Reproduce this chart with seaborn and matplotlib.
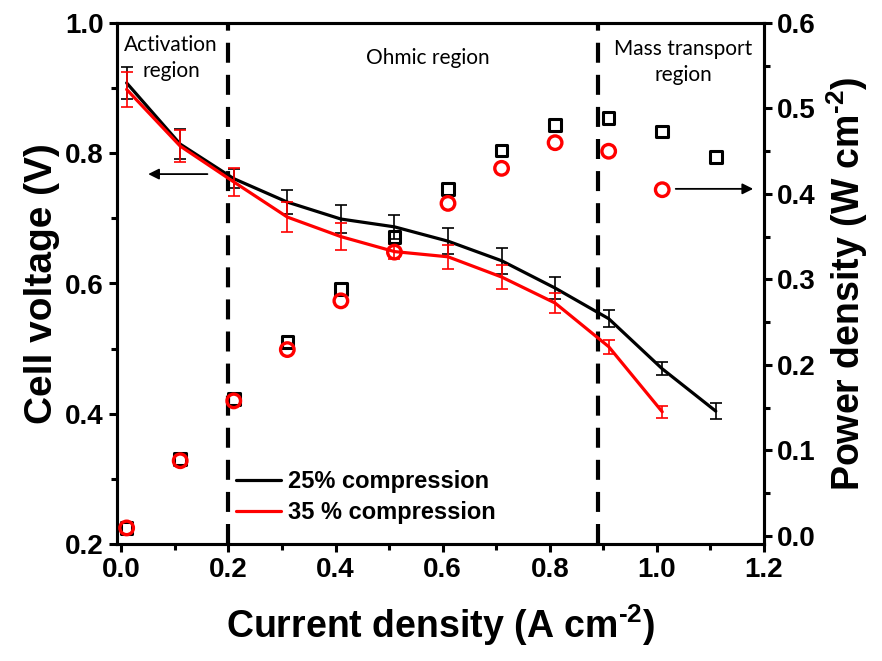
import matplotlib
matplotlib.use("Agg")
import matplotlib.pyplot as plt
import seaborn as sns
import pandas as pd
from matplotlib.ticker import MultipleLocator, FormatStrFormatter

# ---- data ----
current = [0.01, 0.11, 0.21, 0.31, 0.41, 0.51, 0.61, 0.71, 0.81, 0.91, 1.01, 1.11]
v25 = [0.908, 0.814, 0.761, 0.725, 0.699, 0.687, 0.665, 0.635, 0.593, 0.546, 0.469, 0.404]
e25 = [0.025, 0.023, 0.015, 0.019, 0.021, 0.018, 0.020, 0.020, 0.017, 0.013, 0.010, 0.012]
v35 = [0.898, 0.811, 0.756, 0.702, 0.672, 0.649, 0.641, 0.610, 0.570, 0.503, 0.403]
e35 = [0.027, 0.025, 0.022, 0.023, 0.021, 0.012, 0.018, 0.018, 0.015, 0.011, 0.009]
p25 = [0.0094, 0.090, 0.160, 0.227, 0.289, 0.350, 0.406, 0.451, 0.481, 0.489, 0.473, 0.443]
p35 = [0.0094, 0.088, 0.158, 0.218, 0.275, 0.332, 0.389, 0.430, 0.460, 0.450, 0.405]
labels = ["25% compression", "35 % compression"]
region_lines = [0.2, 0.89]

sns.set_theme(style="ticks")
plt.rcParams['font.family'] = ['Liberation Sans', 'DejaVu Sans']
plt.rcParams['font.weight'] = 'bold'
plt.rcParams['text.color'] = 'black'
plt.rcParams['axes.labelcolor'] = 'black'
plt.rcParams['xtick.color'] = 'black'
plt.rcParams['ytick.color'] = 'black'
plt.rcParams['mathtext.fontset'] = 'custom'
plt.rcParams['mathtext.rm'] = 'Liberation Sans:bold'
plt.rcParams['mathtext.bf'] = 'Liberation Sans:bold'

fig = plt.figure(figsize=(8.82, 6.61), dpi=100)
ax = fig.add_axes([117/882, 1-544/661, (764-117)/882, (544-23)/661])
ax2 = ax.twinx()

df25 = pd.DataFrame({"I": current, "V": v25, "P": p25})
df35 = pd.DataFrame({"I": current[:len(v35)], "V": v35, "P": p35})

# region lines
for xv in region_lines:
    ax.axvline(xv, color="black", lw=3, dashes=(4.8, 2.9), zorder=1)

# polarization curves
sns.lineplot(data=df25, x="I", y="V", ax=ax, color="black", lw=2.3, label=labels[0], zorder=3)
sns.lineplot(data=df35, x="I", y="V", ax=ax, color="red", lw=2.3, label=labels[1], zorder=4)
ax.errorbar(df25["I"], df25["V"], yerr=e25, fmt="none", ecolor="black", elinewidth=1.2,
            capsize=4.3, capthick=1.2, zorder=3)
ax.errorbar(df35["I"], df35["V"], yerr=e35, fmt="none", ecolor="red", elinewidth=1.2,
            capsize=4.3, capthick=1.2, zorder=4)

# power density
sns.scatterplot(data=df25, x="I", y="P", ax=ax2, marker="s", s=70, facecolor="none",
                edgecolor="black", linewidth=2.2, zorder=3, legend=False)
sns.scatterplot(data=df35, x="I", y="P", ax=ax2, marker="o", s=95, facecolor="none",
                edgecolor="red", linewidth=2.4, zorder=4, legend=False)

ax.set_xlim(-0.008, 1.2)
ax.set_ylim(0.2, 1.0)
ax2.set_ylim(-0.0094, 0.6)

ax.xaxis.set_major_locator(MultipleLocator(0.2))
ax.xaxis.set_minor_locator(MultipleLocator(0.1))
ax.yaxis.set_major_locator(MultipleLocator(0.2))
ax.yaxis.set_minor_locator(MultipleLocator(0.1))
ax2.yaxis.set_major_locator(MultipleLocator(0.1))
ax2.yaxis.set_minor_locator(MultipleLocator(0.05))
ax.xaxis.set_major_formatter(FormatStrFormatter("%.1f"))
ax.yaxis.set_major_formatter(FormatStrFormatter("%.1f"))
ax2.yaxis.set_major_formatter(FormatStrFormatter("%.1f"))

for a in (ax, ax2):
    for s in a.spines.values():
        s.set_linewidth(2.2)
        s.set_color("black")
    a.tick_params(which="major", direction="out", length=6, width=2.2, labelsize=20, colors="black")
    a.tick_params(which="minor", direction="out", length=4, width=2.2, colors="black")
ax.tick_params(axis="y", which="both", right=False)
ax.tick_params(axis="x", which="both", top=False)
for lab in ax.get_xticklabels() + ax.get_yticklabels() + ax2.get_yticklabels():
    lab.set_fontweight("bold")

ax.set_xlabel("Current density (A cm$^{\\text{-2}}$)", fontsize=27, fontweight="bold", labelpad=14)
ax.set_ylabel("Cell voltage (V)", fontsize=28, fontweight="bold", labelpad=4)
ax2.set_ylabel("Power density (W cm$^{\\text{-2}}$)", fontsize=27, fontweight="bold", labelpad=6)

# region annotations
rfont = dict(family=["Lato", "DejaVu Sans"], fontsize=15, fontweight="normal", color="black")
ax.text(0.093, 0.946, "Activation\nregion", ha="center", va="center", linespacing=1.4, **rfont)
ax.text(0.573, 0.947, "Ohmic region", ha="center", va="center", **rfont)
ax.text(1.049, 0.940, "Mass transport\nregion", ha="center", va="center", linespacing=1.4, **rfont)

# axis arrows
ax.annotate("", xy=(0.045, 0.768), xytext=(0.166, 0.768),
            arrowprops=dict(arrowstyle="-|>", lw=1.3, color="black", mutation_scale=16))
ax2.annotate("", xy=(1.185, 0.406), xytext=(1.03, 0.406),
             arrowprops=dict(arrowstyle="-|>", lw=1.3, color="black", mutation_scale=16))

leg = ax.legend(loc="upper left", bbox_to_anchor=(0.17, 0.16), frameon=False,
                fontsize=17, handlelength=1.9, handletextpad=0.3, labelspacing=0.35,
                borderaxespad=0)
for t in leg.get_texts():
    t.set_fontweight("bold")
    t.set_color("black")
for l in leg.get_lines():
    l.set_linewidth(2.3)

fig.savefig("out.png", dpi=100)
